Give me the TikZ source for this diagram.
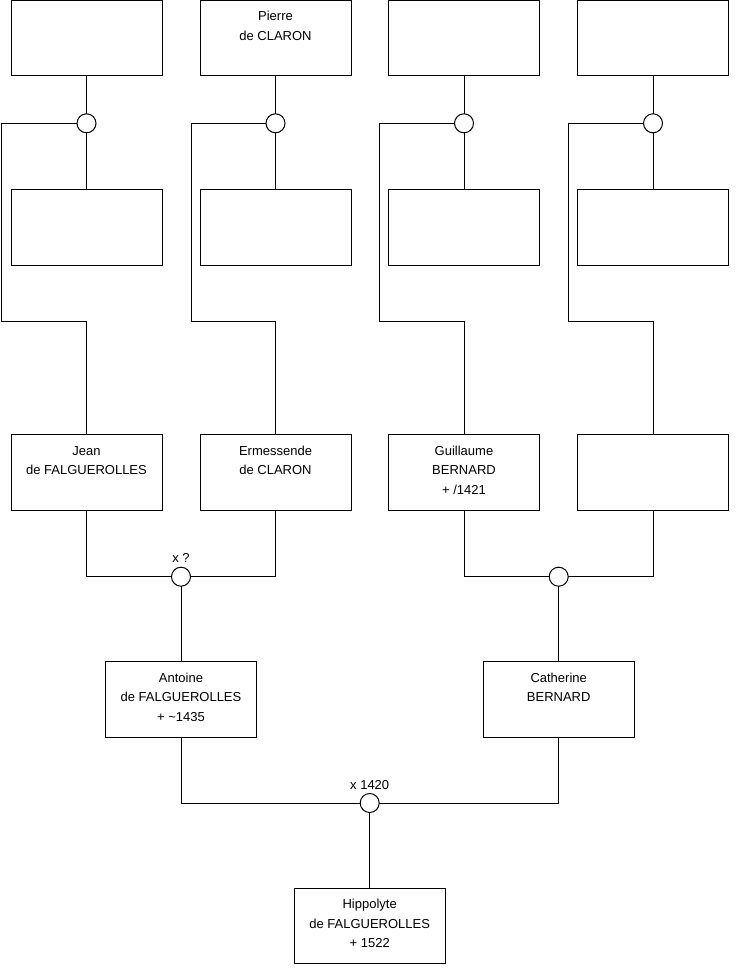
\documentclass[tikz,border=0pt]{standalone}
\usepackage{fontspec}
\setmainfont{Liberation Sans}
\begin{document}
\begin{tikzpicture}[x=1pt,y=-1pt,
  line width=1pt,
  box/.style={draw, rectangle, inner sep=0pt, outer sep=0pt, fill=white},
  ring/.style={draw, circle, minimum size=19pt, inner sep=0pt, outer sep=0pt, fill=white},
  lab/.style={font=\fontsize{13}{15}\selectfont, inner sep=0pt}
]
\newcommand{\bx}[1]{\parbox[t][75.5pt][t]{151pt}{\fontsize{13}{19.5}\selectfont\centering\rule{0pt}{20.5pt}#1}}
\useasboundingbox (0,0) rectangle (740,975);

% top row
\node[box] (t1) at (86.5,38.2) {\bx{}};
\node[box] (t2) at (275.5,38.2) {\bx{Pierre\\de CLARON}};
\node[box] (t3) at (464,38.2) {\bx{}};
\node[box] (t4) at (653,38.2) {\bx{}};
% second row
\node[box] (s1) at (86.5,227.5) {\bx{}};
\node[box] (s2) at (275.5,227.5) {\bx{}};
\node[box] (s3) at (464,227.5) {\bx{}};
\node[box] (s4) at (653,227.5) {\bx{}};
% circles
\node[ring] (c1) at (86.5,123.3) {};
\node[ring] (c2) at (275.5,123.3) {};
\node[ring] (c3) at (464,123.3) {};
\node[ring] (c4) at (653,123.3) {};
% third row
\node[box] (jean) at (86.5,472.7) {\bx{Jean\\de FALGUEROLLES}};
\node[box] (erm) at (275.5,472.7) {\bx{Ermessende\\de CLARON}};
\node[box] (guil) at (464,472.7) {\bx{Guillaume\\BERNARD\\+ /1421}};
\node[box] (r4) at (653,472.7) {\bx{}};
% couples
\node[ring, label={[lab, label distance=4pt]above:x ?}] (m1) at (181,576.7) {};
\node[ring] (m2) at (558.7,576.7) {};
\node[box] (ant) at (181,699.4) {\bx{Antoine\\de FALGUEROLLES\\+ \textasciitilde1435}};
\node[box] (cat) at (558.7,699.4) {\bx{Catherine\\BERNARD}};
\node[ring, label={[lab, label distance=3.5pt]above:x 1420}] (m3) at (369.7,803) {};
\node[box] (hip) at (369.7,926.2) {\bx{Hippolyte\\de FALGUEROLLES\\+ 1522}};

% loop corners
\coordinate (k1) at (1.7,321.7);
\coordinate (k2) at (191,321.7);
\coordinate (k3) at (379.3,321.7);
\coordinate (k4) at (568.7,321.7);

% connectors top
\draw (t1.south) -- (c1.north); \draw (c1.south) -- (s1.north);
\draw (t2.south) -- (c2.north); \draw (c2.south) -- (s2.north);
\draw (t3.south) -- (c3.north); \draw (c3.south) -- (s3.north);
\draw (t4.south) -- (c4.north); \draw (c4.south) -- (s4.north);
\draw (c1.west) -| (k1) -| (jean.north);
\draw (c2.west) -| (k2) -| (erm.north);
\draw (c3.west) -| (k3) -| (guil.north);
\draw (c4.west) -| (k4) -| (r4.north);

% couples
\draw (jean.south) |- (m1.west);
\draw (erm.south) |- (m1.east);
\draw (m1.south) -- (ant.north);
\draw (guil.south) |- (m2.west);
\draw (r4.south) |- (m2.east);
\draw (m2.south) -- (cat.north);
\draw (ant.south) |- (m3.west);
\draw (cat.south) |- (m3.east);
\draw (m3.south) -- (hip.north);
\end{tikzpicture}
\end{document}
